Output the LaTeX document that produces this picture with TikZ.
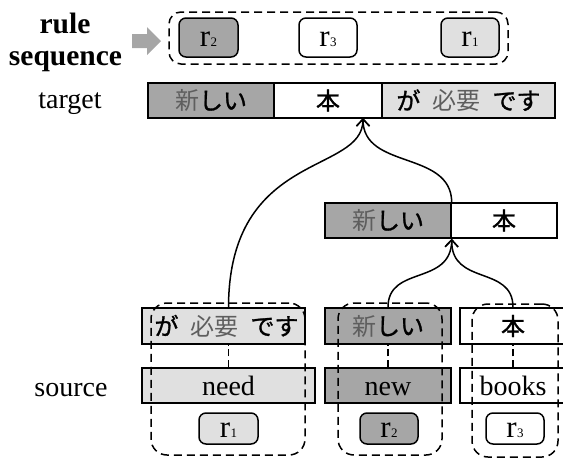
\documentclass[tikz,border=0pt]{standalone}
\usepackage{fontspec}
\setmainfont{Liberation Serif}
\newfontfamily\jafont[FakeBold=1.2]{Noto Sans CJK JP}
\newfontfamily\kjfont{Noto Sans CJK JP}
\usetikzlibrary{arrows.meta}

\definecolor{segdark}{HTML}{A6A6A6}
\definecolor{seglight}{HTML}{E0E0E0}
\definecolor{kanjigray}{HTML}{5E5E5E}

% kanji are printed lighter than the kana
\newcommand\kj[1]{{\kjfont\textcolor{kanjigray}{#1}}}
% rule label: r with a small index
\newcommand\rname[1]{r\kern0.5pt{\fontsize{13}{13}\selectfont #1}}
\newcommand\jgap{\hspace{12pt}}

\begin{document}
\begin{tikzpicture}[x=1pt,y=-1pt,
  latin/.style={font=\fontsize{28}{32}\selectfont},
  boldlabel/.style={font=\fontsize{29.5}{32}\selectfont\bfseries},
  jtext/.style={font=\fontsize{24}{28}\selectfont\jafont},
  seg/.style={draw, line width=1.5pt, inner sep=0pt, minimum height=35pt, jtext},
  wordbox/.style={draw, line width=1.5pt, inner sep=0pt, minimum height=35pt, latin,
    text height=19pt, text depth=0pt},
  rulebox/.style={draw, line width=1.5pt, rounded corners=7pt, inner sep=0pt,
    font=\fontsize{31}{32}\selectfont, text height=18pt, text depth=0pt},
  group/.style={draw, dash pattern=on 8pt off 5pt, line width=1.5pt, rounded corners=16pt, inner sep=0pt},
  link/.style={draw, dash pattern=on 7pt off 4pt, line width=1.5pt},
  flow/.style={draw, line width=1.5pt, -{Straight Barb[length=7pt,width=13pt]}},
]
\useasboundingbox (0,0) rectangle (563,458);

% ---- row labels
\node[boldlabel, anchor=base] (lrule) at (65,33) {rule};
\node[boldlabel, anchor=base] (lseq) at (65.5,65) {sequence};
\node[latin, anchor=base] (ltarget) at (70,108) {target};
\node[latin, anchor=base] (lsource) at (71,396) {source};

% ---- pointer to the rule sequence
\fill[segdark] (132,34) -- (147,34) -- (147,27) -- (161,41) -- (147,55) -- (147,48) -- (132,48) -- cycle;

% ---- rule sequence
\node[rulebox, fill=segdark, minimum width=59pt, minimum height=39pt] (q2) at (208.5,37.5) {\rname{2}};
\node[rulebox, fill=white, minimum width=58pt, minimum height=39pt] (q3) at (328,37.5) {\rname{3}};
\node[rulebox, fill=seglight, minimum width=58pt, minimum height=39pt] (q1) at (470,37.5) {\rname{1}};
\node[group, rounded corners=12pt, minimum width=339pt, minimum height=52pt] (qbox) at (338.5,38) {};

% ---- target sentence
\node[seg, fill=segdark, minimum width=126pt] (t1) at (211,100.5) {\kj{新}しい};
\node[seg, fill=white, minimum width=108pt] (t2) at (328,100.5) {本};
\node[seg, fill=seglight, minimum width=173pt] (t3) at (468.5,100.5) {が\jgap\kj{必要}\jgap です};

% ---- intermediate result
\node[seg, fill=segdark, minimum width=126pt] (m1) at (388,220.5) {\kj{新}しい};
\node[seg, fill=white, minimum width=106pt] (m2) at (504,220.5) {本};

% ---- translated phrases
\node[seg, fill=seglight, minimum width=163pt, minimum height=36pt] (s1) at (223.5,326) {\hspace*{6pt}が\jgap\kj{必要}\jgap です};
\node[seg, fill=segdark, minimum width=126pt, minimum height=36pt] (s2) at (388,326) {\kj{新}しい};
\node[seg, fill=white, minimum width=106pt, minimum height=36pt] (s3) at (513,326) {本};

% ---- source words
\node[wordbox, fill=seglight, minimum width=173pt] (w1) at (228.5,385.5) {need};
\node[wordbox, fill=segdark, minimum width=126pt] (w2) at (388,385.5) {new};
\node[wordbox, fill=white, minimum width=106pt] (w3) at (513,385.5) {books};

% ---- word alignments
\draw[link] (w1.north) -- (w1.north |- s1.south);
\draw[link] (w2.north) -- (s2.south);
\draw[link] (w3.north) -- (s3.south);

% ---- rules
\node[rulebox, fill=seglight, minimum width=59pt, minimum height=31pt] (r1) at (228.5,428.5) {\rname{1}};
\node[rulebox, fill=segdark, minimum width=58pt, minimum height=31pt] (r2) at (389,428.5) {\rname{2}};
\node[rulebox, fill=white, minimum width=58pt, minimum height=31pt] (r3) at (515,428.5) {\rname{3}};

% ---- rule scopes
\node[group, minimum width=154pt, minimum height=152pt] (g1) at (228,379) {};
\node[group, minimum width=104pt, minimum height=152pt] (g2) at (390,379) {};
\node[group, minimum width=86pt, minimum height=153pt] (g3) at (515,380.5) {};

% ---- composition
\coordinate (tip1) at (363,118);
\draw[flow] (w1.north |- s1.north) .. controls (229,150) and (363,175) .. (tip1);
\draw[flow] (m1.north east) .. controls (451,150) and (363,170) .. (tip1);
\draw[flow] (s2.north) .. controls (388,265) and (451,286) .. (m1.south east);
\draw[flow] (s3.north) .. controls (513,265) and (451,286) .. (m1.south east);
\end{tikzpicture}
\end{document}
